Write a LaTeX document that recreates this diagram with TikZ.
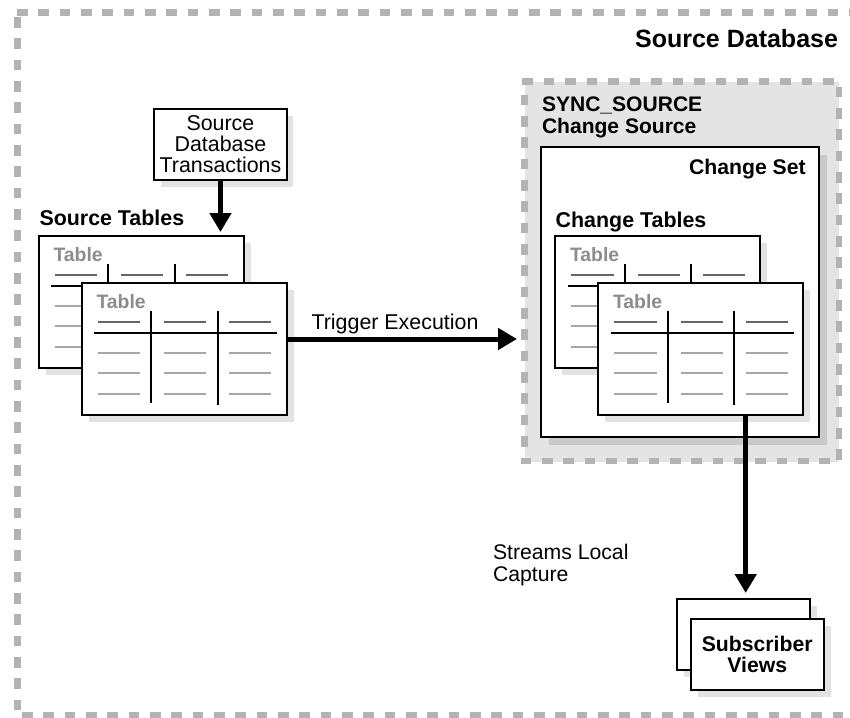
\documentclass[tikz,border=0pt]{standalone}
\usepackage{fontspec}
\setmainfont{Liberation Sans}
\usetikzlibrary{arrows.meta}
\definecolor{dashgray}{HTML}{B3B3B3}
\definecolor{syncfill}{HTML}{E4E4E4}
\definecolor{shadelight}{HTML}{E2E2E2}
\definecolor{shadedark}{HTML}{C9C9C9}
\definecolor{headgray}{HTML}{666666}
\definecolor{rowgray}{HTML}{A6A6A6}
\definecolor{titlegray}{HTML}{8C8C8C}
\tikzset{
  x=1pt,y=-1pt,
  boundary/.style={draw=dashgray,line width=6.5pt,dash pattern=on 10.7pt off 10.63pt},
  plainbox/.style={draw=black,fill=white,line width=2pt,inner sep=0pt,outer sep=0pt,align=center},
  tablebox/.style={plainbox,minimum width=205pt,minimum height=132pt},
  subbox/.style={plainbox,minimum width=133pt,minimum height=71pt},
  reg/.style={font=\fontsize{21.2}{21}\selectfont,inner sep=0pt,outer sep=0pt,align=left},
  head/.style={reg,font=\fontsize{21.2}{21}\selectfont\bfseries},
  headwide/.style={reg,font=\fontsize{21.4}{21}\selectfont\bfseries},
  headnarrow/.style={reg,font=\fontsize{21.05}{21}\selectfont\bfseries},
  tabtitle/.style={inner sep=0pt,outer sep=0pt,anchor=base west,text=titlegray,font=\fontsize{19.4}{19}\selectfont\bfseries},
  flow/.style={draw=black,line width=5pt,-{Triangle[length=19pt,width=21pt]}},
  headrule/.style={draw=headgray,line width=2.2pt},
  rowrule/.style={draw=rowgray,line width=2.2pt},
  gridrule/.style={draw=black,line width=2pt},
}
% #1 name, #2 x of left edge, #3 y of top edge, #4 shadow colour
\newcommand{\tablefig}[4]{%
  \fill[#4] (#2+7,#3+7) rectangle ++(205,132);
  \node[tablebox,anchor=north west] (#1) at (#2,#3) {};
  \node[tabtitle] (#1t) at (#2+15,#3+25) {Table};
  \begin{scope}[shift={(#2,#3)}]
    \foreach \xa/\xb in {16/58.5,82.5/124.5,147.5/189.5}{
      \draw[headrule] (\xa,38.7) -- (\xb,38.7);
      \foreach \yy in {70,90,111}{\draw[rowrule] (\xa,\yy) -- (\xb,\yy);}
    }
    \draw[gridrule] (12.5,50) -- (195.5,50);
    \draw[gridrule] (69.5,27.7) -- (69.5,120);
    \draw[gridrule] (136.2,27.7) -- (136.2,122);
  \end{scope}
}
\begin{document}
\begin{tikzpicture}
\useasboundingbox (0,0) rectangle (850,717);
\fill[white] (0,0) rectangle (850,717);
% outer boundary, running off the right edge
\draw[boundary] (17,12.3) -- (850,12.3);
\draw[boundary] (17.3,17) -- (17.3,710.5);
\draw[boundary] (22,715.5) -- (850,715.5);
\node[head,font=\fontsize{25}{25}\selectfont\bfseries,anchor=base east] (dbtitle) at (838,47.5) {Source Database};
% source transactions
\fill[shadelight] (160.5,115.5) rectangle ++(132.5,71);
\node[plainbox,minimum width=132.5pt,minimum height=71pt,anchor=north west,font=\fontsize{21.4}{21}\selectfont] (src) at (154.2,109) {Source\\Database\\Transactions};
% source tables
\node[headwide,anchor=base west] (srclabel) at (39.5,225) {Source Tables};
\tablefig{sback}{38.5}{236}{shadelight}
\tablefig{sfront}{81.5}{283}{shadelight}
% change source
\node[fill=syncfill,inner sep=0pt,outer sep=0pt,minimum width=314pt,minimum height=379.7pt,anchor=north west] (sync) at (525,82) {};
\draw[boundary,dash pattern=on 10.7pt off 10.8pt] (522,81.7) -- (834,81.7);
\draw[boundary] (839,86.7) -- (839,460);
\draw[boundary] (520.7,461) -- (830,461);
\draw[boundary] (524.5,94.7) -- (524.5,447);
\node[headnarrow,anchor=base west] (synclabel) at (542,111.5) {SYNC\_SOURCE};
\node[headnarrow,anchor=base west] (cslabel) at (542,133) {Change Source};
% change set
\fill[shadedark] (549,155) rectangle ++(278,290);
\node[plainbox,minimum width=278pt,minimum height=290pt,anchor=north west] (cset) at (541,147) {};
\node[head,anchor=base east] (cstitle) at (805.7,174.5) {Change Set};
\node[headwide,anchor=base west] (ctlabel) at (555.7,227) {Change Tables};
\tablefig{cback}{555}{236}{shadelight}
\tablefig{cfront}{598}{283}{shadelight}
% subscriber views
\fill[shadelight] (684,606) rectangle ++(133,71);
\node[subbox,anchor=north west] (vback) at (677,599) {};
\fill[shadelight] (698,626) rectangle ++(133,71);
\node[subbox,anchor=north west,font=\fontsize{21.2}{21}\selectfont\bfseries] (vfront) at (690.7,619) {Subscriber\\Views};
% connectors
\coordinate (trigy) at (400,339);
\coordinate (capx) at (745.7,500);
\draw[flow,shorten >=4pt] (src.south) -- (src.south |- sback.north);
\draw[flow,shorten >=8pt] (sfront.east |- trigy) -- (sync.west |- trigy);
\draw[flow,shorten >=6pt] (capx |- cfront.south) -- (capx |- vback.north);
\node[reg,font=\fontsize{21.4}{21}\selectfont,anchor=base] (triglabel) at (395,329) {Trigger Execution};
\node[reg,anchor=base west] (caplabel) at (493,559) {Streams Local};
\node[reg,anchor=base west] (caplabelb) at (493,581) {Capture};
\end{tikzpicture}
\end{document}
